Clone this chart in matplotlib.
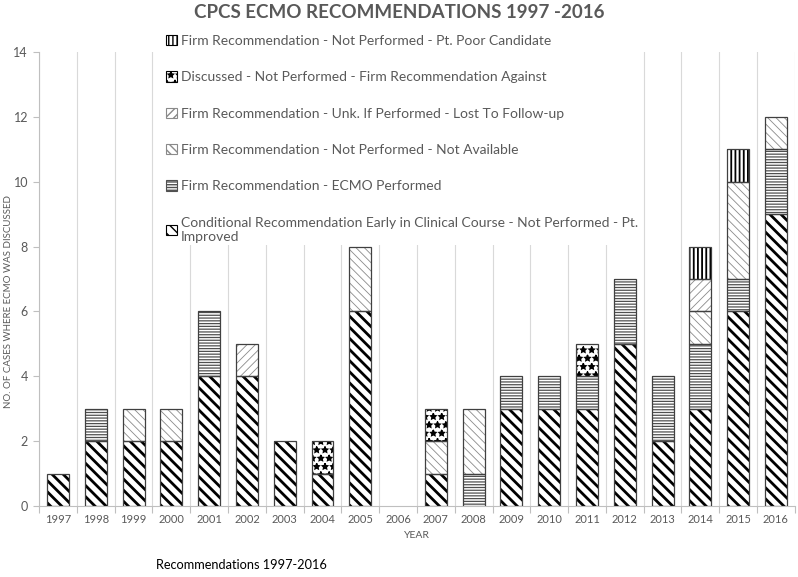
import matplotlib
matplotlib.use("Agg")
import numpy as np
import matplotlib.pyplot as plt
from matplotlib.patches import Patch

# =============================================================================
# DONNEES
# =============================================================================
years = [str(y) for y in range(1997, 2017)]

conditional = [1, 2, 2, 2, 4, 4, 2, 1, 6, 0, 1, 0, 3, 3, 3, 5, 2, 3, 6, 9]
ecmo_done = [0, 1, 0, 0, 2, 0, 0, 0, 0, 0, 0, 1, 1, 1, 1, 2, 2, 2, 1, 2]
not_available = [0, 0, 1, 1, 0, 0, 0, 0, 2, 0, 1, 2, 0, 0, 0, 0, 0, 1, 3, 1]
lost_followup = [0, 0, 0, 0, 0, 1, 0, 0, 0, 0, 0, 0, 0, 0, 0, 0, 0, 1, 0, 0]
rec_against = [0, 0, 0, 0, 0, 0, 0, 1, 0, 0, 1, 0, 0, 0, 1, 0, 0, 0, 0, 0]
poor_candidate = [0, 0, 0, 0, 0, 0, 0, 0, 0, 0, 0, 0, 0, 0, 0, 0, 0, 1, 1, 0]

labels = [
    "Conditional Recommendation Early in Clinical Course - Not Performed - Pt.\nImproved",
    "Firm Recommendation - ECMO Performed",
    "Firm Recommendation - Not Performed - Not Available",
    "Firm Recommendation - Unk. If Performed - Lost To Follow-up",
    "Discussed - Not Performed - Firm Recommendation Against",
    "Firm Recommendation - Not Performed - Pt. Poor Candidate",
]
series = [conditional, ecmo_done, not_available, lost_followup, rec_against, poor_candidate]

# style des hachures : (motif, couleur, epaisseur)
styles = [
    ("\\\\\\", "black", 2.0),
    ("------", "#505050", 0.9),
    ("\\\\\\\\", "#8a8a8a", 0.6),
    ("////", "#8a8a8a", 0.6),
    ("**", "black", 1.0),
    ("||||", "black", 1.3),
]

GREY = "#595959"
FONT = "Lato"

# =============================================================================
# FIGURE
# =============================================================================
fig = plt.figure(figsize=(7.98, 5.77), dpi=100)
ax = fig.add_axes([0.049, 0.123, 0.947, 0.787])

x = np.arange(len(years))
width = 0.58
bottom = np.zeros(len(years))

handles = []
for vals, lab, (hatch, col, lw) in zip(series, labels, styles):
    vals = np.array(vals, dtype=float)
    bars = ax.bar(x, vals, width, bottom=bottom, facecolor="white",
                  edgecolor=col, hatch=hatch, linewidth=0, zorder=2)
    for b in bars:
        if hasattr(b, "set_hatch_linewidth"):
            b.set_hatch_linewidth(lw)
    ax.bar(x[vals > 0], vals[vals > 0], width, bottom=bottom[vals > 0],
           fill=False, edgecolor="#404040", linewidth=0.9, zorder=3)
    h = Patch(facecolor="white", edgecolor=col, hatch=hatch, linewidth=0.8, label=lab)
    if hasattr(h, "set_hatch_linewidth"):
        h.set_hatch_linewidth(lw)
    handles.append(h)
    bottom += vals

# =============================================================================
# AXES
# =============================================================================
ax.set_ylim(0, 14)
ax.set_xlim(-0.5, len(years) - 0.5)
ax.set_yticks(np.arange(0, 15, 2))
ax.set_xticks(x)
ax.set_xticklabels(years)
ax.set_xticks(np.arange(-0.5, len(years), 1.0), minor=True)
ax.tick_params(axis="x", which="major", length=0, pad=6, labelsize=8, labelcolor=GREY)
ax.tick_params(axis="x", which="minor", length=5, color="#bfbfbf", width=0.8)
ax.tick_params(axis="y", length=4, color="#bfbfbf", width=0.8, pad=4,
               labelsize=9, labelcolor=GREY)
for t in ax.get_xticklabels() + ax.get_yticklabels():
    t.set_fontfamily(FONT)

ax.grid(axis="x", which="minor", color="#d9d9d9", linewidth=0.8, zorder=0)
ax.set_axisbelow(True)
for s in ["top", "right"]:
    ax.spines[s].set_visible(False)
for s in ["bottom", "left"]:
    ax.spines[s].set_color("#bfbfbf")
    ax.spines[s].set_linewidth(0.8)

ax.set_xlabel("YEAR", fontsize=7.5, color=GREY, family=FONT, labelpad=4)
ax.set_ylabel("NO. OF CASES WHERE ECMO WAS DISCUSSED", fontsize=7,
              color=GREY, family=FONT)
ax.yaxis.set_label_coords(-0.034, 0.45)

# =============================================================================
# TITRE / LEGENDE
# =============================================================================
fig.text(0.5, 0.978, "CPCS ECMO RECOMMENDATIONS 1997 -2016", ha="center", va="center",
         fontsize=13.5, fontweight="bold", color=GREY, family=FONT)

leg = fig.legend(handles=handles[::-1], loc="upper left",
                 bbox_to_anchor=(0.205, 0.944), frameon=True,
                 prop={"family": FONT, "size": 10}, handlelength=0.75,
                 handleheight=0.75, handletextpad=0.3, labelspacing=1.75,
                 borderpad=0.2, borderaxespad=0)
leg.get_frame().set_facecolor("white")
leg.get_frame().set_edgecolor("none")
leg.get_frame().set_alpha(1)
for t in leg.get_texts():
    t.set_color(GREY)

fig.text(0.195, 0.021, "Recommendations 1997-2016", fontsize=9.2, family=FONT,
         color="black", ha="left", va="center")

fig.savefig("out.png", dpi=100)
